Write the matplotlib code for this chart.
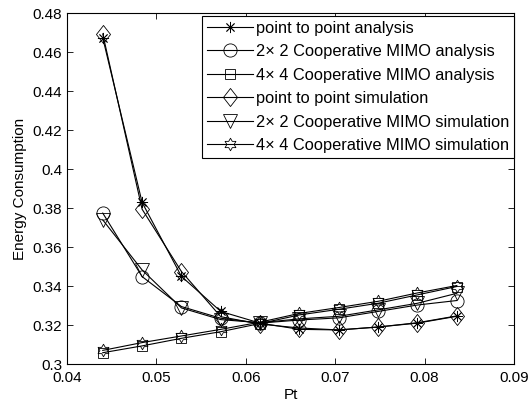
import numpy as np
import matplotlib
matplotlib.use("Agg")
import matplotlib.pyplot as plt
from matplotlib.path import Path
from matplotlib.ticker import FuncFormatter

plt.rcParams['font.family'] = ['Liberation Sans', 'DejaVu Sans']
plt.rcParams['font.size'] = 11

# transmit power values
pt = [0.044, 0.0484, 0.0528, 0.0572, 0.0616, 0.066, 0.0704, 0.0748, 0.0792, 0.0836]

# energy consumption, analysis and simulation
p2p_analysis = [0.4675, 0.383, 0.345, 0.327, 0.321, 0.3178, 0.3175, 0.319, 0.321, 0.3245]
mimo2_analysis = [0.3775, 0.3449, 0.3295, 0.3235, 0.321, 0.3226, 0.3237, 0.327, 0.3303, 0.3326]
mimo4_analysis = [0.3058, 0.3093, 0.3132, 0.3166, 0.3208, 0.3252, 0.3281, 0.3312, 0.3355, 0.3398]
p2p_sim = [0.4695, 0.3795, 0.3475, 0.3243, 0.3205, 0.3185, 0.3175, 0.319, 0.3212, 0.3247]
mimo2_sim = [0.374, 0.3483, 0.3288, 0.3228, 0.3212, 0.3232, 0.3245, 0.3278, 0.3312, 0.3363]
mimo4_sim = [0.307, 0.311, 0.3144, 0.3178, 0.3215, 0.326, 0.329, 0.3322, 0.3365, 0.3403]

labels = ['point to point analysis',
          '2\u00d7 2 Cooperative MIMO analysis',
          '4\u00d7 4 Cooperative MIMO analysis',
          'point to point simulation',
          '2\u00d7 2 Cooperative MIMO simulation',
          '4\u00d7 4 Cooperative MIMO simulation']

# tall diamond marker
diamond = Path([(0, 1), (0.78, 0), (0, -1), (-0.78, 0), (0, 1)],
               [Path.MOVETO, Path.LINETO, Path.LINETO, Path.LINETO, Path.CLOSEPOLY])

# six pointed star outline
ang_out = np.deg2rad(90 + 60 * np.arange(6))
ang_in = ang_out + np.deg2rad(30)
verts = []
for a, b in zip(ang_out, ang_in):
    verts.append((np.cos(a), np.sin(a)))
    verts.append((np.cos(b) / np.sqrt(3), np.sin(b) / np.sqrt(3)))
verts.append(verts[0])
hexagram = Path(verts, [Path.MOVETO] + [Path.LINETO] * 11 + [Path.CLOSEPOLY])

series = [p2p_analysis, mimo2_analysis, mimo4_analysis, p2p_sim, mimo2_sim, mimo4_sim]
markers = [(8, 2, 0), 'o', 's', diamond, 'v', hexagram]
sizes = [8, 9.5, 7.5, 13, 9.5, 9]

fig = plt.figure(figsize=(5.3, 4.05), dpi=100)
ax = fig.add_axes([0.1264, 0.1012, 0.8434, 0.8655])

for y, m, s, lab in zip(series, markers, sizes, labels):
    ax.plot(pt, y, color='k', lw=0.8, marker=m, ms=s, mfc='none',
            mec='k', mew=0.6, label=lab)

ax.set_xlim(0.04, 0.09)
ax.set_ylim(0.3, 0.48)
ax.set_xticks(np.arange(0.04, 0.0901, 0.01))
ax.set_yticks(np.arange(0.30, 0.4801, 0.02))
fmt = FuncFormatter(lambda v, p: ('%.2f' % v).rstrip('0'))
ax.xaxis.set_major_formatter(fmt)
ax.yaxis.set_major_formatter(fmt)
ax.tick_params(direction='in', top=True, right=True, length=4, width=0.6)
ax.tick_params(axis='x', pad=5)
for sp in ax.spines.values():
    sp.set_linewidth(0.8)

ax.set_xlabel('Pt', labelpad=2)
ax.set_ylabel('Energy Consumption', labelpad=4)

leg = ax.legend(loc='upper right', bbox_to_anchor=(1.0, 0.994), borderaxespad=0,
                fancybox=False, edgecolor='k', framealpha=1, fontsize=11.8,
                handlelength=2.85, handletextpad=0.15, labelspacing=0.52,
                borderpad=0.3)
leg.get_frame().set_linewidth(0.8)

fig.savefig('out.png', dpi=100)
